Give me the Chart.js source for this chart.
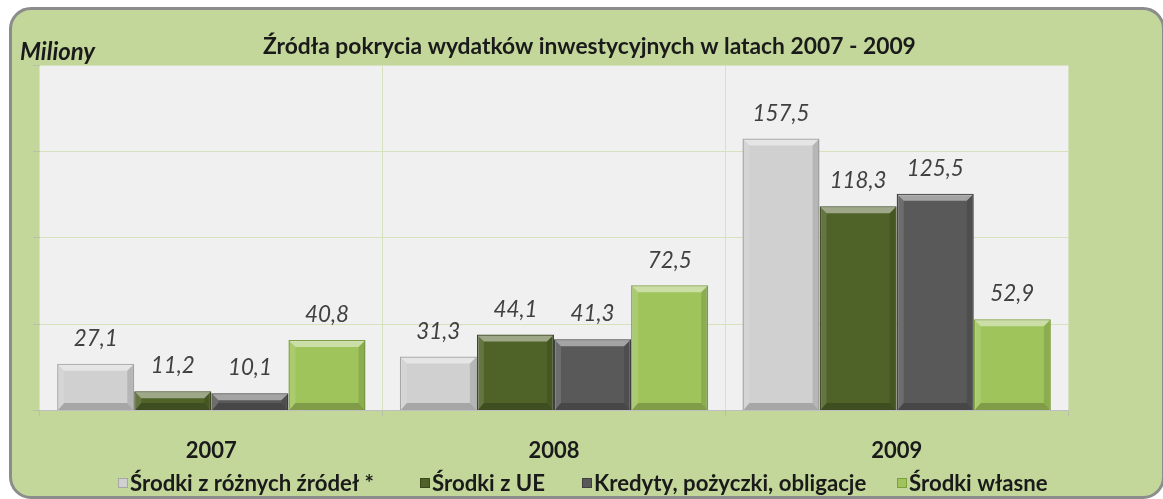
<!DOCTYPE html>
<html>
<head>
<meta charset="utf-8">
<script src="https://cdn.jsdelivr.net/npm/chart.js@4.4.1/dist/chart.umd.min.js"></script>
<style>
  html, body { margin: 0; padding: 0; background: #ffffff; }
  body { width: 1163px; height: 499px; overflow: hidden; position: relative; }
  #frame {
    position: absolute; left: 9px; top: 7px; width: 1150px; height: 486px;
    background: #c4d79b; border: 3px solid #8c8c8c; border-radius: 22px;
  }
  #wrap { position: absolute; left: 0; top: 0; width: 1163px; height: 499px; }
</style>
</head>
<body>
<div id="frame"></div>
<div id="wrap"><canvas id="chart" width="1163" height="499"></canvas></div>
<script>
// dane z wykresu (miliony zł)
const years = ['2007', '2008', '2009'];
const seriesNames = ['Środki z różnych źródeł *', 'Środki z UE', 'Kredyty, pożyczki, obligacje', 'Środki własne'];
const rozneZrodla = [27.1, 31.3, 157.5];
const srodkiUE = [11.2, 44.1, 118.3];
const kredyty = [10.1, 41.3, 125.5];
const srodkiWlasne = [40.8, 72.5, 52.9];

const chartTitle = 'Źródła pokrycia wydatków inwestycyjnych w latach 2007 - 2009';
const unitLabel = 'Miliony';

const fills = ['#d0d0d0', '#4f6228', '#595959', '#a0c45c'];
const borders = ['#a6a6a6', '#3a481d', '#3f3f3f', '#7e9f40'];
const legendX = [118, 420, 582, 897];

// dobiera rozmiar czcionki do szerokości tekstu z oryginału
function fitFont(ctx, style, text, width) {
    ctx.font = style + ' 20px Lato';
    const w = ctx.measureText(text).width;
    return style + ' ' + (20 * width / w).toFixed(1) + 'px Lato';
}

// tło obszaru wykresu
const plotBg = {
    id: 'plotBg',
    beforeDraw(chart) {
        const a = chart.chartArea;
        const ctx = chart.ctx;
        ctx.save();
        ctx.fillStyle = '#f0f0f0';
        ctx.fillRect(a.left, a.top, a.right - a.left, a.bottom - a.top);
        ctx.restore();
    }
};

// efekt fazowania słupków
const bevel = {
    id: 'bevel',
    afterDatasetsDraw(chart) {
        const ctx = chart.ctx;
        ctx.save();
        chart.data.datasets.forEach((ds, i) => {
            chart.getDatasetMeta(i).data.forEach(bar => {
                const p = bar.getProps(['x', 'y', 'base', 'width'], true);
                const l = p.x - p.width / 2, r = p.x + p.width / 2, t = p.y, b = p.base;
                const d = Math.min(7, (b - t) / 2);
                const poly = (pts, color) => {
                    ctx.beginPath();
                    ctx.moveTo(pts[0][0], pts[0][1]);
                    pts.slice(1).forEach(q => ctx.lineTo(q[0], q[1]));
                    ctx.closePath();
                    ctx.fillStyle = color;
                    ctx.fill();
                };
                poly([[l + 1, t + 1], [r - 1, t + 1], [r - d, t + d], [l + d, t + d]], 'rgba(255,255,255,0.45)');
                poly([[l + 1, t + 1], [l + d, t + d], [l + d, b - d], [l + 1, b]], 'rgba(255,255,255,0.12)');
                poly([[r - 1, t + 1], [r - d, t + d], [r - d, b - d], [r - 1, b]], 'rgba(0,0,0,0.12)');
                poly([[l + 1, b], [l + d, b - d], [r - d, b - d], [r - 1, b]], 'rgba(0,0,0,0.2)');
            });
        });
        ctx.restore();
    }
};

// etykiety wartości, tytuł i legenda
const extras = {
    id: 'extras',
    afterDatasetsDraw(chart) {
        const ctx = chart.ctx;
        ctx.save();
        ctx.font = fitFont(ctx, 'italic', '157,5', 57);
        ctx.fillStyle = '#404040';
        ctx.textAlign = 'center';
        ctx.textBaseline = 'middle';
        chart.data.datasets.forEach((ds, i) => {
            chart.getDatasetMeta(i).data.forEach((bar, j) => {
                ctx.fillText(ds.data[j].toFixed(1).replace('.', ','), bar.x, bar.y - 25);
            });
        });

        ctx.fillStyle = '#1a1a1a';
        ctx.textAlign = 'left';
        ctx.font = fitFont(ctx, 'bold', chartTitle, 652);
        ctx.fillText(chartTitle, 263, 47);

        ctx.font = fitFont(ctx, 'italic bold', unitLabel, 75);
        ctx.fillText(unitLabel, 20, 52);

        ctx.font = fitFont(ctx, 'bold', seriesNames[0], 244);
        chart.data.datasets.forEach((ds, i) => {
            const x = legendX[i];
            ctx.fillStyle = ds.backgroundColor;
            ctx.fillRect(x, 478, 10, 10);
            ctx.strokeStyle = ds.borderColor;
            ctx.lineWidth = 1;
            ctx.strokeRect(x + 0.5, 478.5, 9, 9);
            ctx.fillStyle = '#1a1a1a';
            ctx.fillText(ds.label, x + 12, 484);
        });
        ctx.restore();
    }
};

const datasets = [rozneZrodla, srodkiUE, kredyty, srodkiWlasne].map((vals, i) => ({
    label: seriesNames[i],
    data: vals,
    backgroundColor: fills[i],
    borderColor: borders[i],
    borderWidth: 1.5,
    categoryPercentage: 0.9,
    barPercentage: 1.0
}));

new Chart(document.getElementById('chart'), {
    type: 'bar',
    data: { labels: years, datasets: datasets },
    plugins: [plotBg, bevel, extras],
    options: {
        responsive: false,
        animation: false,
        devicePixelRatio: 1,
        layout: { padding: { left: 0, right: 95, top: 65, bottom: 14 } },
        plugins: {
            legend: { display: false },
            title: { display: false },
            tooltip: { enabled: false }
        },
        scales: {
            x: {
                grid: { color: '#d5e2bb', tickColor: '#b8c2a8', tickLength: 6, offset: true },
                border: { color: '#bfbfbf' },
                ticks: { color: '#1a1a1a', font: { family: 'Lato', size: 22, weight: 'bold' }, padding: 21 }
            },
            y: {
                min: 0,
                max: 200,
                afterFit(scale) { scale.width = 40; },
                grid: { color: '#d5e2bb', tickColor: '#b8c2a8', tickLength: 7 },
                border: { display: false },
                ticks: { stepSize: 50, display: false }
            }
        }
    }
});
</script>
</body>
</html>
